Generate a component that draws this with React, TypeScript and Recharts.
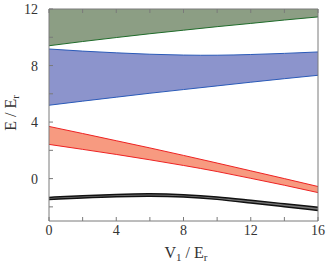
import React from 'react'
import { ComposedChart, Area, Line, XAxis, YAxis } from 'recharts'

// V1 / Er sample points
const v1 = [0, 2, 4, 6, 8, 10, 12, 14, 16]

// band edges (E / Er)
const greenLo = [9.4, 9.7, 9.98, 10.25, 10.5, 10.75, 10.98, 11.22, 11.44]
const greenHi = [12, 12, 12, 12, 12, 12, 12, 12, 12]
const blueHi = [9.17, 9.02, 8.9, 8.8, 8.74, 8.73, 8.78, 8.86, 8.96]
const blueLo = [5.19, 5.48, 5.76, 6.04, 6.3, 6.56, 6.82, 7.07, 7.31]
const redHi = [3.69, 3.19, 2.68, 2.17, 1.64, 1.1, 0.55, 0.0, -0.56]
const redLo = [2.42, 2.07, 1.71, 1.33, 0.93, 0.5, 0.02, -0.47, -0.99]
const blackHi = [-1.33, -1.21, -1.12, -1.08, -1.14, -1.3, -1.54, -1.78, -2.02]
const blackLo = [-1.48, -1.37, -1.28, -1.25, -1.3, -1.47, -1.73, -1.99, -2.25]

const xTicks = [0, 2, 4, 6, 8, 10, 12, 14, 16]
const yTicks = [-2, 0, 2, 4, 6, 8, 10, 12]

const data = v1.map((v, i) => ({
  v,
  gLo: greenLo[i],
  gHi: greenHi[i],
  bLo: blueLo[i],
  bHi: blueHi[i],
  rLo: redLo[i],
  rHi: redHi[i],
  kLo: blackLo[i],
  kHi: blackHi[i],
}))

const serif = '"Liberation Serif", "DejaVu Serif", serif'
const axisColor = '#7a7a7a'
const tickStyle = { fill: '#333', fontSize: 14, fontFamily: serif }
const every4 = (t: number) => (t % 4 === 0 ? String(t) : '')
const blank = () => ''

export default function App() {
  return (
    <div style={{ position: 'absolute', left: 0, top: 0, width: 327, height: 269, background: '#fff' }}>
      <ComposedChart
        width={327}
        height={269}
        data={data}
        margin={{ top: 8, right: 8, bottom: 47, left: 48 }}
      >
        <XAxis
          dataKey="v"
          type="number"
          domain={[0, 16]}
          ticks={xTicks}
          tickFormatter={every4}
          height={1}
          tickSize={-4}
          tickMargin={8}
          stroke={axisColor}
          tick={tickStyle}
          interval={0}
        />
        <XAxis
          xAxisId="top"
          orientation="top"
          dataKey="v"
          type="number"
          domain={[0, 16]}
          ticks={xTicks}
          tickFormatter={blank}
          height={1}
          tickSize={-4}
          stroke={axisColor}
          interval={0}
        />
        <YAxis
          type="number"
          domain={[-3, 12]}
          ticks={yTicks}
          tickFormatter={every4}
          width={1}
          tickSize={-4}
          tickMargin={15}
          stroke={axisColor}
          tick={tickStyle}
          interval={0}
          allowDataOverflow
        />
        <YAxis
          yAxisId="right"
          orientation="right"
          type="number"
          domain={[-3, 12]}
          ticks={yTicks}
          tickFormatter={blank}
          width={1}
          tickSize={-4}
          stroke={axisColor}
          interval={0}
        />
        <Area
          dataKey={(d: any) => [d.gLo, d.gHi]}
          type="natural"
          fill="#8c9e84"
          fillOpacity={1}
          stroke="none"
          isAnimationActive={false}
        />
        <Area
          dataKey={(d: any) => [d.bLo, d.bHi]}
          type="natural"
          fill="#8c94cc"
          fillOpacity={1}
          stroke="none"
          isAnimationActive={false}
        />
        <Area
          dataKey={(d: any) => [d.rLo, d.rHi]}
          type="natural"
          fill="#f79a80"
          fillOpacity={1}
          stroke="none"
          isAnimationActive={false}
        />
        <Area
          dataKey={(d: any) => [d.kLo, d.kHi]}
          type="natural"
          fill="#777"
          fillOpacity={1}
          stroke="none"
          isAnimationActive={false}
        />
        <Line dataKey="gLo" type="natural" stroke="#1f6b2a" strokeWidth={1} dot={false} isAnimationActive={false} />
        <Line dataKey="bHi" type="natural" stroke="#2a5ab8" strokeWidth={1} dot={false} isAnimationActive={false} />
        <Line dataKey="bLo" type="natural" stroke="#2a5ab8" strokeWidth={1} dot={false} isAnimationActive={false} />
        <Line dataKey="rHi" type="natural" stroke="#ee2222" strokeWidth={1} dot={false} isAnimationActive={false} />
        <Line dataKey="rLo" type="natural" stroke="#ee2222" strokeWidth={1} dot={false} isAnimationActive={false} />
        <Line dataKey="kHi" type="natural" stroke="#111" strokeWidth={1.5} dot={false} isAnimationActive={false} />
        <Line dataKey="kLo" type="natural" stroke="#111" strokeWidth={1.5} dot={false} isAnimationActive={false} />
      </ComposedChart>
      <div
        style={{
          position: 'absolute',
          left: 186,
          top: 253,
          transform: 'translate(-50%, -50%)',
          fontFamily: serif,
          fontSize: 16,
          color: '#333',
          whiteSpace: 'nowrap',
        }}
      >
        V<span style={{ fontSize: 11, verticalAlign: -3 }}>1</span> / E
        <span style={{ fontSize: 11, verticalAlign: -3 }}>r</span>
      </div>
      <div
        style={{
          position: 'absolute',
          left: 11,
          top: 113,
          transform: 'translate(-50%, -50%) rotate(-90deg)',
          fontFamily: serif,
          fontSize: 16,
          color: '#333',
          whiteSpace: 'nowrap',
        }}
      >
        E / E<span style={{ fontSize: 11, verticalAlign: -3 }}>r</span>
      </div>
    </div>
  )
}
